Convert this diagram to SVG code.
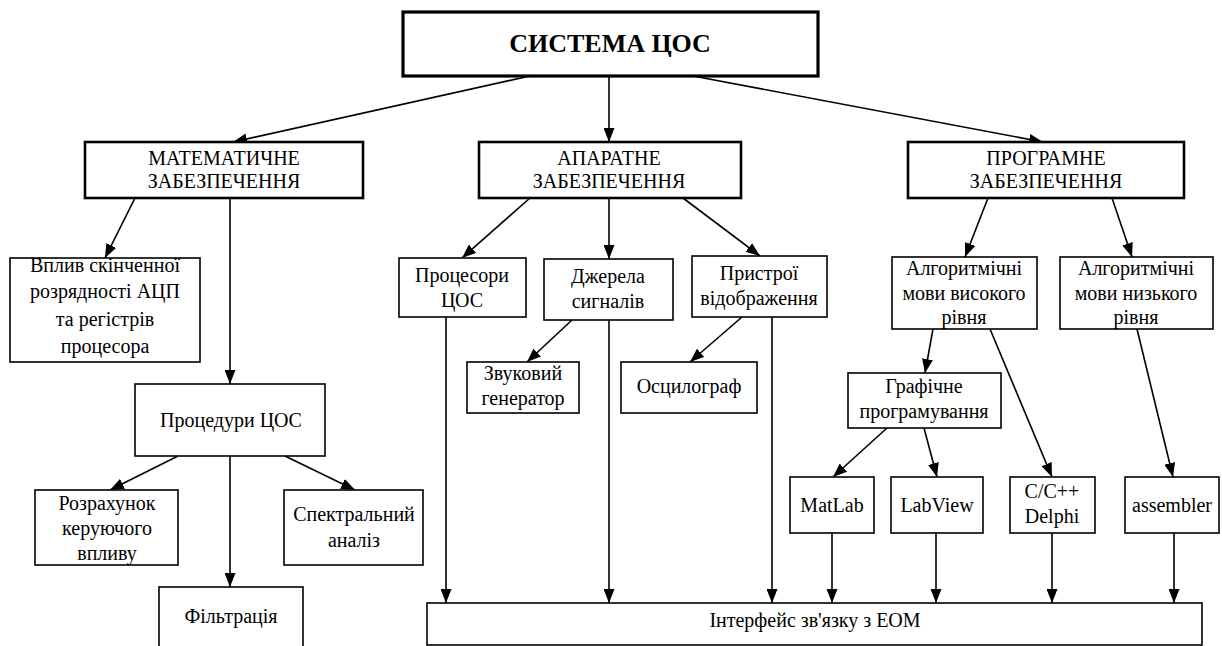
<svg xmlns="http://www.w3.org/2000/svg" width="1222" height="646" viewBox="0 0 1222 646">
<defs>
<marker id="ah" markerWidth="14" markerHeight="11" refX="14" refY="5.5" orient="auto" markerUnits="userSpaceOnUse">
<path d="M0,0 L14,5.5 L0,11 z" fill="#000"/>
</marker>
<style>
.b{fill:#fff;stroke:#000;stroke-width:1.6}
.h{fill:#fff;stroke:#000;stroke-width:2.6}
.t{fill:#fff;stroke:#000;stroke-width:3.2}
text{font-family:"Liberation Serif","Times New Roman",serif;font-size:20px;fill:#000;text-anchor:middle}
.tt{font-size:26px;font-weight:bold}
.c line{stroke:#000;stroke-width:1.6;marker-end:url(#ah)}
</style>
</defs>
<rect width="1222" height="646" fill="#fff"/>
<g class="c" id="connectors">
<line x1="530" y1="76" x2="233" y2="142"/>
<line x1="609" y1="76" x2="609" y2="142"/>
<line x1="693" y1="76" x2="1043" y2="142"/>
<line x1="135" y1="198" x2="105" y2="258"/>
<line x1="230" y1="198" x2="230" y2="384"/>
<line x1="530" y1="198" x2="462" y2="258"/>
<line x1="609" y1="198" x2="609" y2="259"/>
<line x1="683" y1="198" x2="760" y2="256"/>
<line x1="988" y1="198" x2="965" y2="257"/>
<line x1="1112" y1="198" x2="1132" y2="257"/>
<line x1="178" y1="456" x2="110" y2="490"/>
<line x1="230" y1="456" x2="230" y2="587"/>
<line x1="285" y1="456" x2="355" y2="490"/>
<line x1="572" y1="320" x2="527" y2="362"/>
<line x1="742" y1="317" x2="690" y2="362"/>
<line x1="446" y1="317" x2="446" y2="603"/>
<line x1="609" y1="320" x2="609" y2="603"/>
<line x1="772" y1="317" x2="772" y2="603"/>
<line x1="933" y1="329" x2="925" y2="373"/>
<line x1="990" y1="329" x2="1052" y2="477"/>
<line x1="1137" y1="329" x2="1173" y2="477"/>
<line x1="887" y1="428" x2="833" y2="477"/>
<line x1="924" y1="428" x2="937" y2="477"/>
<line x1="832" y1="533" x2="832" y2="603"/>
<line x1="936" y1="533" x2="936" y2="603"/>
<line x1="1052" y1="533" x2="1052" y2="603"/>
<line x1="1174" y1="533" x2="1174" y2="603"/>
</g>
<g id="title"><rect class="t" x="403" y="12" width="415" height="64"/><text class="tt" x="610" y="52">СИСТЕМА ЦОС</text></g>
<g id="math"><rect class="h" x="85" y="142" width="278" height="56"/><text x="224" y="165">МАТЕМАТИЧНЕ</text><text x="224" y="188">ЗАБЕЗПЕЧЕННЯ</text></g>
<g id="hardware"><rect class="h" x="479" y="142" width="262" height="56"/><text x="609" y="165">АПАРАТНЕ</text><text x="609" y="188">ЗАБЕЗПЕЧЕННЯ</text></g>
<g id="software"><rect class="h" x="908" y="142" width="276" height="56"/><text x="1046" y="165">ПРОГРАМНЕ</text><text x="1046" y="188">ЗАБЕЗПЕЧЕННЯ</text></g>
<g id="influence"><rect class="b" x="10" y="258" width="190" height="104"/><text x="105" y="272">Вплив скінченної</text><text x="105" y="298">розрядності АЦП</text><text x="105" y="326">та регістрів</text><text x="105" y="353">процесора</text></g>
<g id="procedures"><rect class="b" x="135" y="384" width="190" height="72"/><text x="231" y="427">Процедури ЦОС</text></g>
<g id="control"><rect class="b" x="35" y="490" width="143" height="75"/><text x="107" y="510">Розрахунок</text><text x="107" y="535">керуючого</text><text x="107" y="560">впливу</text></g>
<g id="filter"><rect class="b" x="159" y="587" width="144" height="80"/><text x="231" y="623">Фільтрація</text></g>
<g id="spectrum"><rect class="b" x="284" y="490" width="139" height="75"/><text x="354" y="521">Спектральний</text><text x="354" y="547">аналіз</text></g>
<g id="processors"><rect class="b" x="399" y="258" width="127" height="59"/><text x="462" y="282">Процесори</text><text x="462" y="307">ЦОС</text></g>
<g id="sources"><rect class="b" x="544" y="259" width="129" height="61"/><text x="608" y="283">Джерела</text><text x="608" y="308">сигналів</text></g>
<g id="display"><rect class="b" x="692" y="256" width="135" height="61"/><text x="759" y="280">Пристрої</text><text x="759" y="305">відображення</text></g>
<g id="generator"><rect class="b" x="467" y="362" width="112" height="51"/><text x="523" y="380">Звуковий</text><text x="523" y="405">генератор</text></g>
<g id="scope"><rect class="b" x="621" y="362" width="136" height="51"/><text x="689" y="393">Осцилограф</text></g>
<g id="highlevel"><rect class="b" x="892" y="257" width="145" height="72"/><text x="964" y="275">Алгоритмічні</text><text x="964" y="300">мови високого</text><text x="964" y="324">рівня</text></g>
<g id="lowlevel"><rect class="b" x="1060" y="257" width="153" height="72"/><text x="1136" y="275">Алгоритмічні</text><text x="1136" y="300">мови низького</text><text x="1136" y="324">рівня</text></g>
<g id="graphical"><rect class="b" x="848" y="373" width="153" height="55"/><text x="924" y="393">Графічне</text><text x="924" y="418">програмування</text></g>
<g id="matlab"><rect class="b" x="790" y="477" width="84" height="56"/><text x="832" y="512">MatLab</text></g>
<g id="labview"><rect class="b" x="891" y="477" width="92" height="56"/><text x="937" y="512">LabView</text></g>
<g id="cpp"><rect class="b" x="1010" y="477" width="85" height="56"/><text x="1052" y="498">C/C++</text><text x="1052" y="523">Delphi</text></g>
<g id="asm"><rect class="b" x="1125" y="477" width="94" height="56"/><text x="1172" y="512">assembler</text></g>
<g id="interface"><rect class="b" x="427" y="603" width="775" height="42"/><text x="815" y="627">Інтерфейс зв'язку з ЕОМ</text></g>
</svg>
